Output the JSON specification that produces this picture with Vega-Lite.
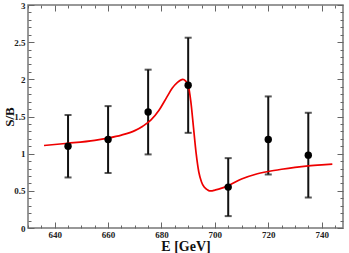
{
  "$schema": "https://vega.github.io/schema/vega-lite/v6.json",
  "width": 315,
  "height": 223,
  "autosize": "none",
  "padding": {"left": 28, "top": 5, "right": 6, "bottom": 25},
  "background": "white",
  "config": {
    "view": {"stroke": "#777", "strokeWidth": 1.5},
    "axis": {
      "labelFont": "Liberation Serif",
      "labelFontWeight": "bold",
      "labelFontSize": 9,
      "labelColor": "#222",
      "labelOverlap": false,
      "labelBound": false,
      "labelFlush": false,
      "titleFont": "Liberation Serif",
      "titleFontWeight": "bold",
      "titleColor": "#111",
      "tickColor": "#666",
      "tickWidth": 1,
      "domain": false,
      "grid": false
    }
  },
  "datasets": {
    "pts": [
      {"E": 645, "SB": 1.10, "lo": 0.68, "hi": 1.52},
      {"E": 660, "SB": 1.19, "lo": 0.74, "hi": 1.64},
      {"E": 675, "SB": 1.56, "lo": 0.99, "hi": 2.13},
      {"E": 690, "SB": 1.92, "lo": 1.28, "hi": 2.56},
      {"E": 705, "SB": 0.55, "lo": 0.16, "hi": 0.94},
      {"E": 720, "SB": 1.19, "lo": 0.72, "hi": 1.77},
      {"E": 735, "SB": 0.98, "lo": 0.41, "hi": 1.55}
    ],
    "fit": [
      {"E": 636, "fit": 1.11},
      {"E": 645, "fit": 1.14},
      {"E": 655, "fit": 1.18},
      {"E": 660, "fit": 1.21},
      {"E": 665, "fit": 1.25},
      {"E": 670, "fit": 1.31},
      {"E": 673, "fit": 1.37},
      {"E": 676, "fit": 1.45},
      {"E": 679, "fit": 1.58},
      {"E": 682, "fit": 1.76},
      {"E": 684, "fit": 1.88},
      {"E": 686, "fit": 1.96},
      {"E": 688, "fit": 2.0},
      {"E": 689, "fit": 1.98},
      {"E": 690, "fit": 1.92},
      {"E": 691, "fit": 1.7},
      {"E": 692, "fit": 1.35},
      {"E": 693, "fit": 1.0},
      {"E": 694, "fit": 0.75},
      {"E": 695, "fit": 0.62},
      {"E": 696, "fit": 0.55},
      {"E": 697, "fit": 0.52},
      {"E": 698, "fit": 0.5},
      {"E": 699, "fit": 0.5},
      {"E": 700, "fit": 0.51},
      {"E": 702, "fit": 0.53},
      {"E": 705, "fit": 0.57},
      {"E": 710, "fit": 0.66},
      {"E": 715, "fit": 0.72},
      {"E": 720, "fit": 0.76},
      {"E": 725, "fit": 0.79},
      {"E": 730, "fit": 0.815},
      {"E": 735, "fit": 0.835},
      {"E": 740, "fit": 0.85},
      {"E": 744, "fit": 0.86}
    ]
  },
  "layer": [
    {
      "data": {"name": "pts"},
      "mark": {"type": "rule", "color": "#111", "strokeWidth": 2},
      "encoding": {
        "x": {
          "field": "E", "type": "quantitative",
          "scale": {"domain": [630, 748], "nice": false, "zero": false},
          "axis": {
            "orient": "bottom",
            "title": "E [GeV]",
            "titleFontSize": 14,
            "titlePadding": -3,
            "values": [630, 635, 640, 645, 650, 655, 660, 665, 670, 675, 680, 685, 690, 695, 700, 705, 710, 715, 720, 725, 730, 735, 740, 745],
            "labelExpr": "datum.value % 20 === 0 ? datum.value + '' : ''",
            "tickSize": {"condition": {"test": "datum.value % 20 === 0", "value": -6}, "value": -3},
            "labelPadding": 8
          }
        },
        "y": {
          "field": "lo", "type": "quantitative",
          "scale": {"domain": [0, 3], "nice": false},
          "axis": {
            "orient": "left",
            "title": "S/B",
            "titleFontSize": 13,
            "titlePadding": -3,
            "values": [0, 0.1, 0.2, 0.3, 0.4, 0.5, 0.6, 0.7, 0.8, 0.9, 1, 1.1, 1.2, 1.3, 1.4, 1.5, 1.6, 1.7, 1.8, 1.9, 2, 2.1, 2.2, 2.3, 2.4, 2.5, 2.6, 2.7, 2.8, 2.9, 3],
            "labelExpr": "round(datum.value * 10) % 5 === 0 ? datum.value + '' : ''",
            "tickSize": {"condition": {"test": "round(datum.value * 10) % 5 === 0", "value": -6}, "value": -3},
            "labelPadding": 9
          }
        },
        "y2": {"field": "hi"}
      }
    },
    {
      "data": {"name": "pts"},
      "mark": {"type": "tick", "orient": "horizontal", "color": "#111", "thickness": 2, "size": 7},
      "encoding": {
        "x": {"field": "E", "type": "quantitative", "axis": null},
        "y": {"field": "lo", "type": "quantitative", "axis": null}
      }
    },
    {
      "data": {"name": "pts"},
      "mark": {"type": "tick", "orient": "horizontal", "color": "#111", "thickness": 2, "size": 7},
      "encoding": {
        "x": {"field": "E", "type": "quantitative", "axis": null},
        "y": {"field": "hi", "type": "quantitative", "axis": null}
      }
    },
    {
      "data": {"name": "fit"},
      "mark": {"type": "line", "color": "#ee0000", "strokeWidth": 1.7, "interpolate": "monotone"},
      "encoding": {
        "x": {
          "field": "E", "type": "quantitative",
          "axis": {
            "orient": "top", "title": null, "labels": false,
            "values": [630, 635, 640, 645, 650, 655, 660, 665, 670, 675, 680, 685, 690, 695, 700, 705, 710, 715, 720, 725, 730, 735, 740, 745],
            "tickSize": {"condition": {"test": "datum.value % 20 === 0", "value": -6}, "value": -3}
          }
        },
        "y": {
          "field": "fit", "type": "quantitative",
          "axis": {
            "orient": "right", "title": null, "labels": false,
            "values": [0, 0.1, 0.2, 0.3, 0.4, 0.5, 0.6, 0.7, 0.8, 0.9, 1, 1.1, 1.2, 1.3, 1.4, 1.5, 1.6, 1.7, 1.8, 1.9, 2, 2.1, 2.2, 2.3, 2.4, 2.5, 2.6, 2.7, 2.8, 2.9, 3],
            "tickSize": {"condition": {"test": "round(datum.value * 10) % 5 === 0", "value": -6}, "value": -3}
          }
        }
      }
    },
    {
      "data": {"name": "pts"},
      "mark": {"type": "point", "filled": true, "color": "#000", "opacity": 1, "size": 55},
      "encoding": {
        "x": {"field": "E", "type": "quantitative", "axis": null},
        "y": {"field": "SB", "type": "quantitative", "axis": null}
      }
    }
  ],
  "resolve": {"axis": {"x": "independent", "y": "independent"}}
}
